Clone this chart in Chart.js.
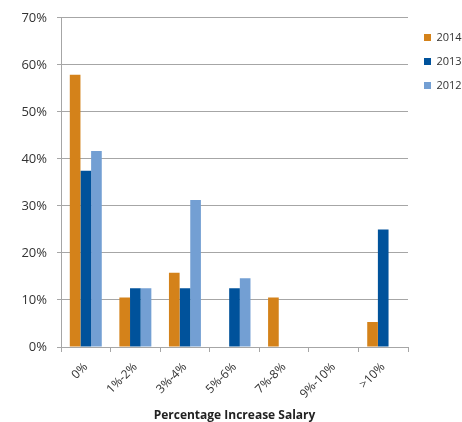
<!DOCTYPE html>
<html>
<head>
<meta charset="utf-8">
<script src="https://cdn.jsdelivr.net/npm/chart.js@4/dist/chart.umd.min.js"></script>
<style>
  html, body { margin: 0; padding: 0; background: #ffffff; }
  #wrap { width: 462px; height: 422px; }
</style>
</head>
<body>
<div id="wrap"><canvas id="c" width="462" height="422"></canvas></div>
<script>
// Salary increase bands
const categories = ['0%', '1%-2%', '3%-4%', '5%-6%', '7%-8%', '9%-10%', '>10%'];

// Share of respondents per band, in percent
const values2014 = [57.9, 10.5, 15.8, 0, 10.5, 0, 5.3];
const values2013 = [37.5, 12.5, 12.5, 12.5, 0, 0, 25.0];
const values2012 = [41.7, 12.5, 31.25, 14.6, 0, 0, 0];

const seriesLabels = ['2014', '2013', '2012'];
const yTicks = [0, 10, 20, 30, 40, 50, 60, 70];

const FONT = "'Open Sans', 'Liberation Sans', sans-serif";
const GRID = '#a6a6a6';

// Nudge the legend block a little right and down from its default slot
const legendNudge = {
  id: 'legendNudge',
  afterLayout(chart) {
    const lg = chart.legend;
    if (!lg) return;
    lg.left += 3; lg.right += 3;
    lg.top += 5; lg.bottom += 5;
  }
};

new Chart(document.getElementById('c'), {
  type: 'bar',
  data: {
    labels: categories,
    datasets: [
      { label: seriesLabels[0], data: values2014, backgroundColor: '#d4821a' },
      { label: seriesLabels[1], data: values2013, backgroundColor: '#00529b' },
      { label: seriesLabels[2], data: values2012, backgroundColor: '#739fd3' }
    ]
  },
  plugins: [legendNudge],
  options: {
    responsive: false,
    animation: false,
    devicePixelRatio: 1,
    layout: { padding: { left: 0, right: 0, top: 14, bottom: 0 } },
    datasets: {
      bar: { categoryPercentage: 0.645, barPercentage: 1.0, borderWidth: 0 }
    },
    plugins: {
      tooltip: { enabled: false },
      legend: {
        position: 'right',
        align: 'start',
        maxWidth: 54,
        labels: {
          boxWidth: 7,
          boxHeight: 7,
          padding: 13,
          color: '#333333',
          font: { family: FONT, size: 11 }
        }
      }
    },
    scales: {
      x: {
        grid: {
          offset: true,
          drawOnChartArea: false,
          color: GRID,
          tickLength: 5
        },
        border: { color: GRID, width: 1 },
        ticks: {
          maxRotation: 45,
          minRotation: 45,
          color: '#333333',
          padding: 8,
          font: { family: FONT, size: 12 }
        },
        title: {
          display: true,
          text: 'Percentage Increase Salary',
          color: '#222222',
          padding: { top: 8, bottom: 0 },
          font: { family: FONT, size: 12, weight: 'bold', lineHeight: 1.0 }
        },
        afterFit: (scale) => { scale.height = 75; }
      },
      y: {
        min: 0,
        max: 70,
        afterBuildTicks: (scale) => { scale.ticks = yTicks.map(v => ({ value: v })); },
        grid: { color: GRID, tickLength: 4 },
        border: { color: GRID, width: 1 },
        ticks: {
          color: '#333333',
          padding: 10,
          font: { family: FONT, size: 13 },
          callback: (v) => v + '%'
        },
        afterFit: (scale) => { scale.width = 61; }
      }
    }
  }
});
</script>
</body>
</html>
